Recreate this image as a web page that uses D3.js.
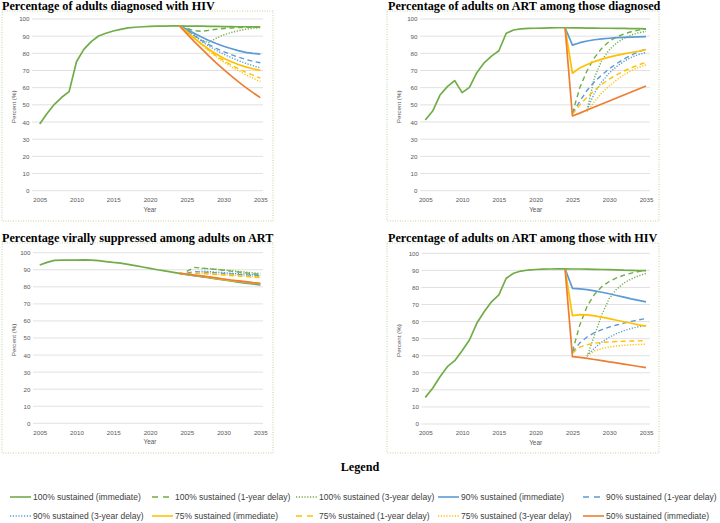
<!DOCTYPE html>
<html>
<head>
<meta charset="utf-8">
<script src="https://cdn.jsdelivr.net/npm/d3@7/dist/d3.min.js"></script>
<style>
  body { margin: 0; background: #fff; }
  svg { display: block; }
  .ttl { font-family: "Liberation Serif", "Times New Roman", serif; font-weight: bold; fill: #000; }
  .ax text { font-family: "Liberation Sans", Arial, sans-serif; fill: #595959; }
  .lg text { font-family: "Liberation Sans", Arial, sans-serif; fill: #404040; }
</style>
</head>
<body>
<svg id="chart" width="720" height="523"></svg>
<script>
// categories
const histYears = [2005, 2006, 2007, 2008, 2009, 2010, 2011, 2012, 2013, 2014,
                   2015, 2016, 2017, 2018, 2019, 2020, 2021, 2022, 2023, 2024];
const projYears = [2024, 2025, 2026, 2027, 2028, 2029, 2030, 2031, 2032, 2033, 2034, 2035];
const xTicks = [2005, 2010, 2015, 2020, 2025, 2030, 2035];
const yTicks = [0, 10, 20, 30, 40, 50, 60, 70, 80, 90, 100];

// panel 1 - diagnosed
const diagHist = [38.8, 45, 50.3, 54.4, 57.7, 75.1, 82.3, 86.8, 90.1, 91.7,
                  93, 94, 94.8, 95.2, 95.5, 95.7, 95.8, 95.9, 96, 96];
const diag100   = [96, 95.9, 95.8, 95.8, 95.7, 95.7, 95.6, 95.6, 95.5, 95.5, 95.4, 95.4];
const diag100d1 = [96, 94.6, 93.2, 92.8, 93.4, 94.0, 94.5, 94.8, 95.0, 95.1, 95.2, 95.3];
const diag100d3 = [96, 93.6, 90.8, 87.6, 86.3, 88.8, 90.7, 92.1, 93.2, 94.0, 94.6, 95.0];
const diag90    = [96, 94, 91.7, 89.5, 87.5, 85.7, 84.1, 82.8, 81.6, 80.6, 80.0, 79.5];
const diag90d1  = [96, 93.4, 90.4, 87.6, 85.1, 82.9, 81.0, 79.3, 77.8, 76.5, 75.4, 74.5];
const diag90d3  = [96, 93.4, 90.3, 87.0, 84.2, 81.7, 79.5, 77.6, 75.8, 74.2, 72.8, 71.5];
const diag75    = [96, 92.6, 88.9, 85.5, 82.4, 79.6, 77.2, 75.2, 73.5, 72.1, 71.0, 70.1];
const diag75d1  = [96, 92.8, 89.0, 85.3, 81.8, 78.6, 75.8, 73.3, 71.1, 69.1, 67.3, 65.6];
const diag75d3  = [96, 92.8, 89.0, 85.1, 81.4, 78.0, 75.0, 72.3, 69.9, 67.6, 65.5, 63.6];
const diag50    = [96, 91.5, 87.0, 82.7, 78.5, 74.5, 70.7, 67.0, 63.5, 60.2, 57.1, 54.2];

// panel 2 - on ART among diagnosed
const artDxHist = [41.2, 46.4, 55.7, 60.6, 64.1, 57.1, 60.2, 68.7, 74.5, 78.4,
                   81.5, 91.7, 93.6, 94.3, 94.5, 94.6, 94.7, 94.8, 94.9, 94.9];
const artDx100   = [94.9, 94.8, 94.8, 94.7, 94.7, 94.6, 94.6, 94.5, 94.5, 94.4, 94.4, 94.3];
const artDx100d1 = [null, 45, 60, 70, 77.5, 83, 87, 89.5, 91.3, 92.6, 93.5, 94.2];
const artDx100d3 = [null, null, null, 47, 66, 76, 82, 86, 88.8, 90.7, 92, 92.8];
const artDx90    = [94.9, 84.8, 86.2, 87.2, 87.9, 88.4, 88.8, 89.1, 89.3, 89.5, 89.6, 89.7];
const artDx90d1  = [null, 45, 52, 58.5, 63.5, 67.5, 71, 74, 76.7, 79, 81, 82.5];
const artDx90d3  = [null, null, null, 47, 57, 63.5, 68.5, 72.3, 75.3, 77.7, 79.3, 80.5];
const artDx75    = [94.9, 68.4, 71.5, 73.5, 75.2, 76.6, 77.8, 78.8, 79.7, 80.5, 81.2, 82.2];
const artDx75d1  = [null, 44.5, 50, 54.5, 58.5, 62, 65, 67.5, 69.7, 71.6, 73.3, 74.8];
const artDx75d3  = [null, null, null, 46, 52, 57, 61, 64.5, 67.5, 70, 71.8, 73.3];
const artDx50    = [94.9, 43.5, 45.2, 47, 48.7, 50.5, 52.2, 54, 55.7, 57.5, 59.2, 61];

// panel 3 - virally suppressed among on ART
const supHist = [92.8, 94.3, 95.5, 95.7, 95.6, 95.7, 95.8, 95.7, 95.3, 94.8,
                 94.3, 93.9, 93.2, 92.4, 91.6, 90.8, 90.0, 89.3, 88.6, 87.9];
const sup100   = [87.9, 87.2, 86.5, 85.9, 85.3, 84.6, 84.0, 83.4, 82.8, 82.2, 81.7, 81.1];
const sup100d1 = [null, 89.0, 91.4, 91.0, 90.6, 90.2, 89.7, 89.2, 88.7, 88.2, 87.7, 87.2];
const sup100d3 = [null, null, null, 90.8, 90.6, 90.3, 89.9, 89.5, 89.0, 88.6, 88.2, 87.8];
const sup90    = [87.9, 87.3, 86.7, 86.1, 85.5, 84.9, 84.3, 83.7, 83.1, 82.5, 82.0, 81.4];
const sup90d1  = [null, 88.0, 88.9, 88.7, 88.5, 88.2, 87.9, 87.6, 87.3, 87.0, 86.7, 86.4];
const sup90d3  = [null, null, null, 89.0, 88.9, 88.6, 88.3, 88.0, 87.7, 87.4, 87.1, 86.8];
const sup75    = [87.9, 87.4, 86.8, 86.2, 85.6, 85.0, 84.4, 83.8, 83.3, 82.8, 82.3, 81.8];
const sup75d1  = [null, 87.5, 87.9, 87.7, 87.5, 87.2, 86.9, 86.6, 86.3, 86.0, 85.7, 85.4];
const sup75d3  = [null, null, null, 88.0, 87.9, 87.6, 87.3, 87.0, 86.7, 86.4, 86.1, 85.8];
const sup50    = [87.9, 87.5, 86.9, 86.4, 85.8, 85.2, 84.6, 84.0, 83.5, 83.0, 82.5, 82.1];

// panel 4 - on ART among all with HIV
const artHivHist = [15.6, 20.9, 27.7, 33.6, 37.1, 42.9, 49.2, 59, 65.8, 71.6,
                    75.6, 85.4, 88.3, 89.6, 90.2, 90.5, 90.7, 90.8, 90.9, 90.9];
const artHiv100   = [90.9, 90.8, 90.8, 90.7, 90.6, 90.5, 90.4, 90.3, 90.1, 90.0, 89.9, 89.8];
const artHiv100d1 = [null, 42.5, 58, 69, 76, 80.5, 83.5, 85.6, 87.2, 88.4, 89.3, 90];
const artHiv100d3 = [null, null, null, 39.5, 52, 64, 73.5, 79, 82.6, 85, 86.8, 88.2];
const artHiv90    = [90.9, 79.5, 79.2, 78.7, 78, 77.2, 76.3, 75.3, 74.3, 73.3, 72.4, 71.5];
const artHiv90d1  = [null, 42, 47.5, 51, 53.5, 55.3, 56.8, 58, 59.1, 60.1, 61, 61.8];
const artHiv90d3  = [null, null, null, 40, 44.5, 48, 50.8, 53, 54.7, 56, 57, 57.8];
const artHiv75    = [90.9, 63.5, 64.1, 63.9, 63.3, 62.6, 61.7, 60.8, 59.9, 59, 58.1, 57.3];
const artHiv75d1  = [null, 41.5, 45, 46.5, 47.3, 47.8, 48.1, 48.3, 48.5, 48.6, 48.7, 48.8];
const artHiv75d3  = [null, null, null, 40, 42.8, 44.2, 45.1, 45.7, 46.1, 46.4, 46.6, 46.8];
const artHiv50    = [90.9, 39.5, 39, 38.4, 37.8, 37.1, 36.4, 35.8, 35.1, 34.4, 33.7, 33];

// scenario names, in legend / drawing order
const scenarioNames = [
  "100% sustained (immediate)", "100% sustained (1-year delay)", "100% sustained (3-year delay)",
  "90% sustained (immediate)", "90% sustained (1-year delay)", "90% sustained (3-year delay)",
  "75% sustained (immediate)", "75% sustained (1-year delay)", "75% sustained (3-year delay)",
  "50% sustained (immediate)"
];

const panelTitles = [
  "Percentage of adults diagnosed with HIV",
  "Percentage of adults on ART among those diagnosed",
  "Percentage virally suppressed among adults on ART",
  "Percentage of adults on ART among those with HIV"
];

// styles for each scenario (excel office palette)
const green = "#70AD47", blue = "#5B9BD5", gold = "#FFC000", orange = "#ED7D31";
const styles = [
  {c: green, d: null}, {c: green, d: "5,3.5"}, {c: green, d: "1.2,1.6"},
  {c: blue, d: null},  {c: blue, d: "5,3.5"},  {c: blue, d: "1.2,1.6"},
  {c: gold, d: null},  {c: gold, d: "5,3.5"},  {c: gold, d: "1.2,1.6"},
  {c: orange, d: null}
];

const panelData = [
  {hist: diagHist, proj: [diag100, diag100d1, diag100d3, diag90, diag90d1, diag90d3, diag75, diag75d1, diag75d3, diag50]},
  {hist: artDxHist, proj: [artDx100, artDx100d1, artDx100d3, artDx90, artDx90d1, artDx90d3, artDx75, artDx75d1, artDx75d3, artDx50]},
  {hist: supHist, proj: [sup100, sup100d1, sup100d3, sup90, sup90d1, sup90d3, sup75, sup75d1, sup75d3, sup50]},
  {hist: artHivHist, proj: [artHiv100, artHiv100d1, artHiv100d3, artHiv90, artHiv90d1, artHiv90d3, artHiv75, artHiv75d1, artHiv75d3, artHiv50]}
];

// layout of each panel (pixel boxes)
const layout = [
  {box: [2, 11, 273, 221],  x: [39.7, 260.3],  grid: [32, 263],  y: [190.7, 19],  titleX: 2,   titleY: 9.5},
  {box: [387, 11, 659, 221], x: [425.3, 646],  grid: [420, 650], y: [190.7, 19],  titleX: 388, titleY: 9.5},
  {box: [2, 243, 273, 453], x: [39.7, 260.3],  grid: [33, 263],  y: [423.3, 252.7], titleX: 2, titleY: 241.5},
  {box: [387, 243, 659, 453], x: [425.3, 646], grid: [421.5, 650], y: [424, 253.3], titleX: 388, titleY: 241.5}
];

const svg = d3.select("#chart");

panelData.forEach((pd, i) => {
  const L = layout[i];
  const g = svg.append("g");

  // dotted frame
  g.append("rect")
    .attr("x", L.box[0]).attr("y", L.box[1])
    .attr("width", L.box[2] - L.box[0]).attr("height", L.box[3] - L.box[1])
    .attr("fill", "none").attr("stroke", "#A9C98F")
    .attr("stroke-width", 0.8).attr("stroke-dasharray", "1,1.5");

  g.append("text").attr("class", "ttl")
    .attr("x", L.titleX).attr("y", L.titleY)
    .attr("font-size", 12.2)
    .text(panelTitles[i]);

  let x = d3.scaleLinear().domain([2005, 2035]).range(L.x);
  let y = d3.scaleLinear().domain([0, 100]).range(L.y);

  // gridlines
  g.append("g").selectAll("line").data(yTicks).join("line")
    .attr("x1", L.grid[0]).attr("x2", L.grid[1])
    .attr("y1", d => y(d)).attr("y2", d => y(d))
    .attr("stroke", "#D9D9D9").attr("stroke-width", 0.8);

  // y axis labels
  let yAx = g.append("g").attr("class", "ax")
    .attr("transform", "translate(" + (L.grid[0] - 2.5) + ",0)")
    .call(d3.axisLeft(y).tickValues(yTicks).tickSize(0).tickPadding(0));
  yAx.select(".domain").remove();
  yAx.selectAll("text").attr("font-size", 6.2);

  // x axis labels
  let xAx = g.append("g").attr("class", "ax")
    .attr("transform", "translate(0," + (y(0) + 7) + ")")
    .call(d3.axisBottom(x).tickValues(xTicks).tickFormat(d3.format("d")).tickSize(0).tickPadding(0));
  xAx.select(".domain").remove();
  xAx.selectAll("text").attr("font-size", 6.2);

  g.append("text").attr("class", "ax")
    .attr("x", (L.x[0] + L.x[1]) / 2).attr("y", y(0) + 21)
    .attr("text-anchor", "middle").attr("font-size", 6.4)
    .attr("font-family", "Liberation Sans, Arial, sans-serif").attr("fill", "#595959")
    .text("Year");

  g.append("text")
    .attr("transform", "translate(" + (L.box[0] + 13.5) + "," + (y(50) + 2) + ") rotate(-90)")
    .attr("text-anchor", "middle").attr("font-size", 6.2)
    .attr("font-family", "Liberation Sans, Arial, sans-serif").attr("fill", "#595959")
    .text("Percent (%)");

  let line = d3.line()
    .defined(d => d[1] != null)
    .x(d => x(d[0])).y(d => y(d[1]));

  let lines = g.append("g").attr("fill", "none").attr("stroke-linejoin", "round");

  // history shared by every scenario
  lines.append("path")
    .attr("d", line(histYears.map((yr, k) => [yr, pd.hist[k]])))
    .attr("stroke", green).attr("stroke-width", 1.7);

  pd.proj.forEach((vals, k) => {
    lines.append("path")
      .attr("d", line(projYears.map((yr, j) => [yr, vals[j]])))
      .attr("stroke", styles[k].c)
      .attr("stroke-width", styles[k].d ? 1.4 : 1.7)
      .attr("stroke-dasharray", styles[k].d);
  });
});

// legend
svg.append("text").attr("class", "ttl")
  .attr("x", 360).attr("y", 471).attr("text-anchor", "middle")
  .attr("font-size", 12.2).text("Legend");

const lgCols = [10, 152, 296, 438, 583];
const lgRows = [497, 516];
let lg = svg.append("g").attr("class", "lg");
scenarioNames.forEach((name, k) => {
  let cx = lgCols[k % 5], cy = lgRows[Math.floor(k / 5)];
  let st = styles[k];
  lg.append("line")
    .attr("x1", cx).attr("x2", cx + 21).attr("y1", cy).attr("y2", cy)
    .attr("stroke", st.c).attr("stroke-width", 1.6)
    .attr("stroke-dasharray", st.d ? (st.d[0] == "5" ? "6,5" : "1.2,1.6") : null);
  lg.append("text")
    .attr("x", cx + 23).attr("y", cy + 3)
    .attr("font-size", 8.5)
    .text(name);
});
</script>
</body>
</html>
